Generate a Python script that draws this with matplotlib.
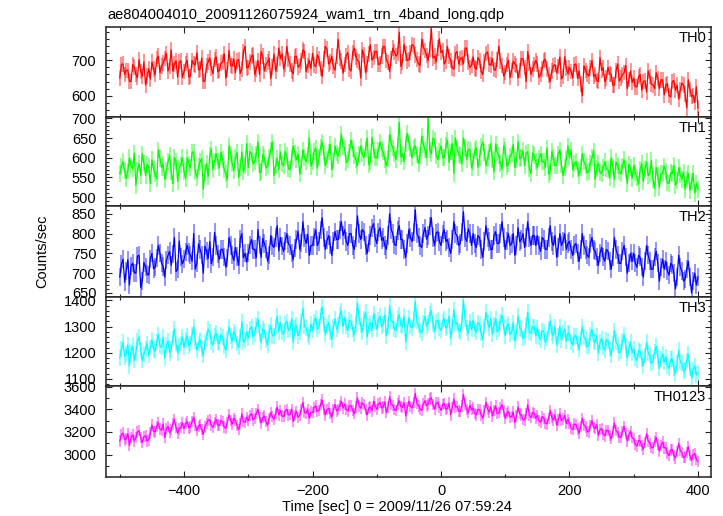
import numpy as np
import matplotlib
matplotlib.use("Agg")
import matplotlib.pyplot as plt
from matplotlib.ticker import MultipleLocator

plt.rcParams['font.family'] = ['Liberation Sans', 'DejaVu Sans']
plt.rcParams['font.size'] = 10.5

title = "ae804004010_20091126075924_wam1_trn_4band_long.qdp"
xlabel = "Time [sec] 0 = 2009/11/26 07:59:24"
ylabel = "Counts/sec"
band_names = ["TH0", "TH1", "TH2", "TH3", "TH0123"]
band_colors = ["#ff0000", "#00ff00", "#0000ff", "#00ffff", "#ff00ff"]

# time bins (2.5 s) from -500 to 400 s
time_start, time_stop, time_step = -500.0, 400.0, 2.5

th0 = [650, 689, 690, 660, 672, 672, 641, 640, 688, 681, 660, 651, 702, 669, 655, 696, 630, 656, 676, 647,
       695, 675, 660, 704, 712, 665, 684, 692, 705, 720, 670, 683, 730, 670, 690, 699, 652, 695, 699, 652,
       668, 691, 700, 653, 655, 700, 690, 687, 722, 673, 675, 707, 640, 642, 686, 695, 707, 678, 662, 702,
       710, 668, 672, 692, 695, 719, 650, 674, 728, 686, 684, 704, 665, 699, 703, 663, 676, 726, 740, 679,
       680, 696, 712, 715, 660, 676, 700, 660, 725, 712, 670, 688, 695, 706, 648, 681, 718, 670, 688, 735,
       705, 719, 676, 690, 740, 702, 690, 670, 662, 711, 712, 681, 685, 699, 730, 726, 668, 686, 700, 677,
       720, 687, 682, 716, 705, 677, 655, 704, 740, 732, 690, 695, 712, 682, 672, 711, 760, 707, 698, 664,
       688, 714, 722, 676, 670, 723, 735, 710, 700, 696, 650, 730, 715, 665, 690, 718, 745, 701, 708, 725,
       725, 688, 690, 712, 740, 739, 700, 694, 668, 706, 735, 724, 712, 719, 780, 683, 695, 746, 720, 699,
       702, 722, 745, 741, 715, 702, 690, 686, 760, 738, 728, 714, 700, 732, 790, 707, 712, 696, 735, 761,
       722, 728, 690, 699, 740, 711, 700, 679, 675, 720, 725, 690, 705, 708, 690, 735, 735, 695, 680, 686,
       710, 679, 675, 708, 700, 669, 660, 696, 720, 724, 688, 687, 705, 674, 672, 703, 740, 699, 685, 656,
       665, 689, 700, 651, 672, 698, 690, 685, 650, 671, 705, 705, 680, 640, 725, 693, 660, 676, 688, 700,
       690, 652, 660, 676, 700, 703, 675, 658, 640, 670, 685, 688, 665, 683, 710, 647, 655, 710, 678, 663,
       680, 669, 650, 688, 690, 649, 670, 633, 600, 685, 672, 661, 655, 679, 700, 654, 660, 643, 640, 708,
       672, 679, 640, 650, 680, 662, 660, 630, 630, 671, 690, 641, 650, 659, 665, 686, 620, 646, 670, 637,
       650, 625, 625, 654, 660, 615, 640, 642, 610, 670, 655, 633, 630, 620, 665, 649, 620, 645, 645, 602,
       630, 634, 600, 596, 640, 643, 615, 630, 590, 616, 635, 630, 605, 565, 645, 618, 598, 601, 580, 625,
       565]

th1 = [560, 578, 590, 567, 548, 566, 600, 579, 572, 611, 530, 569, 585, 555, 610, 587, 555, 583, 578, 535,
       595, 572, 560, 546, 620, 598, 575, 584, 545, 568, 590, 606, 565, 534, 600, 592, 540, 574, 582, 600,
       565, 548, 600, 584, 575, 614, 615, 564, 550, 578, 590, 598, 520, 562, 585, 552, 605, 622, 570, 590,
       610, 592, 575, 614, 595, 570, 560, 545, 630, 610, 585, 568, 600, 614, 550, 576, 615, 564, 580, 636,
       575, 616, 610, 584, 590, 608, 640, 562, 565, 608, 600, 574, 580, 600, 620, 640, 555, 580, 598, 570,
       615, 584, 580, 616, 605, 572, 570, 602, 630, 612, 595, 610, 560, 578, 620, 600, 590, 606, 650, 578,
       590, 616, 625, 574, 600, 626, 640, 612, 580, 596, 615, 634, 570, 590, 630, 612, 605, 622, 660, 628,
       625, 588, 595, 614, 645, 624, 605, 594, 580, 608, 630, 610, 600, 622, 650, 582, 590, 652, 620, 600,
       600, 618, 640, 622, 615, 596, 580, 598, 660, 636, 625, 610, 595, 630, 690, 602, 610, 590, 635, 662,
       640, 622, 600, 625, 630, 608, 585, 606, 655, 634, 620, 600, 700, 620, 610, 650, 645, 606, 595, 616,
       630, 600, 600, 632, 645, 588, 615, 636, 560, 650, 625, 608, 605, 584, 650, 626, 595, 622, 620, 574,
       590, 618, 625, 576, 600, 628, 640, 614, 580, 598, 615, 636, 595, 564, 635, 614, 605, 585, 570, 630,
       620, 578, 585, 604, 610, 634, 575, 594, 640, 598, 600, 618, 580, 612, 615, 572, 560, 612, 605, 590,
       575, 598, 610, 590, 590, 576, 625, 558, 565, 616, 600, 580, 580, 610, 620, 582, 555, 575, 595, 630,
       600, 620, 570, 585, 590, 572, 555, 575, 610, 590, 580, 562, 565, 587, 600, 617, 545, 573, 585, 563,
       560, 575, 590, 572, 570, 549, 600, 579, 545, 590, 580, 565, 560, 578, 595, 570, 535, 583, 575, 548,
       580, 562, 550, 533, 570, 585, 540, 571, 590, 555, 560, 593, 545, 521, 575, 556, 525, 561, 560, 578,
       565, 536, 535, 562, 560, 580, 530, 542, 575, 556, 545, 563, 520, 545, 560, 517, 540, 560, 510, 535,
       520]

th2 = [690, 723, 735, 677, 705, 734, 670, 719, 725, 701, 700, 743, 745, 664, 680, 727, 715, 698, 695, 736,
       750, 711, 715, 739, 770, 750, 725, 717, 690, 733, 745, 755, 720, 748, 790, 704, 710, 781, 740, 724,
       735, 754, 770, 752, 745, 730, 800, 710, 725, 774, 760, 746, 700, 768, 755, 737, 780, 724, 740, 803,
       770, 748, 735, 760, 760, 740, 715, 738, 790, 770, 745, 732, 765, 742, 720, 787, 800, 739, 750, 728,
       750, 772, 785, 760, 760, 739, 810, 772, 740, 788, 775, 761, 730, 746, 795, 770, 765, 790, 820, 756,
       790, 768, 755, 782, 800, 774, 770, 750, 735, 764, 785, 806, 760, 777, 830, 790, 775, 798, 745, 770,
       770, 792, 810, 770, 780, 810, 840, 790, 760, 783, 795, 772, 745, 780, 805, 785, 785, 810, 830, 795,
       810, 780, 770, 800, 800, 770, 760, 790, 845, 800, 785, 810, 805, 770, 750, 777, 795, 815, 825, 790,
       775, 805, 815, 783, 790, 770, 760, 795, 850, 810, 800, 772, 770, 808, 820, 785, 785, 760, 740, 775,
       810, 790, 780, 805, 860, 800, 790, 770, 765, 800, 815, 786, 795, 820, 840, 790, 770, 802, 805, 780,
       770, 799, 810, 780, 785, 765, 750, 785, 830, 800, 795, 770, 775, 805, 855, 790, 780, 812, 800, 770,
       800, 775, 765, 795, 790, 760, 740, 780, 820, 790, 780, 760, 760, 795, 805, 775, 775, 800, 830, 790,
       760, 782, 800, 770, 775, 800, 745, 770, 815, 780, 785, 800, 765, 790, 830, 790, 770, 795, 795, 770,
       795, 770, 755, 790, 785, 760, 760, 790, 820, 780, 770, 795, 740, 765, 800, 770, 780, 800, 760, 775,
       780, 760, 745, 770, 775, 750, 730, 760, 800, 770, 760, 745, 740, 775, 790, 760, 755, 740, 720, 750,
       765, 740, 730, 760, 755, 730, 710, 740, 790, 760, 745, 725, 725, 755, 770, 740, 700, 725, 750, 730,
       750, 725, 715, 745, 740, 715, 690, 730, 770, 745, 730, 710, 710, 740, 755, 725, 680, 715, 735, 710,
       730, 705, 695, 725, 720, 700, 660, 690, 745, 715, 705, 680, 685, 710, 730, 690, 650, 680, 700, 670,
       690]

th3 = [1180, 1215, 1240, 1185, 1195, 1230, 1150, 1205, 1225, 1170, 1200, 1245, 1260, 1210, 1170, 1195, 1215, 1235, 1190, 1220,
       1250, 1215, 1205, 1240, 1270, 1225, 1220, 1260, 1180, 1230, 1245, 1200, 1215, 1255, 1290, 1235, 1200, 1225, 1235, 1260,
       1220, 1250, 1265, 1225, 1235, 1270, 1300, 1245, 1210, 1235, 1250, 1215, 1190, 1240, 1255, 1290, 1280, 1240, 1230, 1265,
       1275, 1240, 1235, 1270, 1260, 1225, 1210, 1255, 1300, 1265, 1245, 1280, 1270, 1235, 1220, 1260, 1320, 1240, 1250, 1280,
       1255, 1290, 1300, 1260, 1270, 1305, 1330, 1275, 1240, 1290, 1285, 1250, 1230, 1280, 1305, 1265, 1265, 1300, 1340, 1280,
       1315, 1280, 1270, 1310, 1320, 1285, 1290, 1330, 1240, 1295, 1305, 1265, 1280, 1320, 1370, 1300, 1295, 1270, 1260, 1310,
       1285, 1320, 1335, 1290, 1300, 1340, 1375, 1310, 1270, 1300, 1315, 1280, 1250, 1300, 1330, 1290, 1305, 1345, 1360, 1300,
       1335, 1300, 1285, 1325, 1320, 1290, 1270, 1310, 1390, 1335, 1305, 1280, 1330, 1355, 1260, 1300, 1315, 1285, 1350, 1320,
       1290, 1325, 1340, 1300, 1310, 1345, 1265, 1300, 1380, 1320, 1320, 1290, 1285, 1330, 1345, 1305, 1300, 1340, 1240, 1290,
       1335, 1300, 1295, 1330, 1395, 1320, 1305, 1285, 1275, 1315, 1340, 1300, 1315, 1350, 1360, 1310, 1280, 1320, 1325, 1295,
       1285, 1320, 1330, 1295, 1300, 1340, 1255, 1300, 1365, 1310, 1315, 1285, 1280, 1320, 1400, 1330, 1295, 1275, 1320, 1290,
       1325, 1290, 1280, 1315, 1310, 1275, 1250, 1300, 1355, 1315, 1295, 1330, 1270, 1305, 1330, 1280, 1290, 1320, 1345, 1300,
       1265, 1300, 1310, 1270, 1280, 1315, 1245, 1280, 1340, 1295, 1290, 1255, 1260, 1305, 1355, 1280, 1275, 1300, 1300, 1265,
       1295, 1260, 1250, 1285, 1280, 1240, 1255, 1290, 1320, 1275, 1265, 1300, 1230, 1265, 1300, 1250, 1275, 1290, 1245, 1275,
       1275, 1240, 1230, 1265, 1265, 1235, 1215, 1255, 1300, 1260, 1250, 1225, 1225, 1270, 1290, 1245, 1240, 1265, 1200, 1240,
       1255, 1220, 1210, 1250, 1245, 1215, 1190, 1235, 1285, 1240, 1230, 1200, 1205, 1245, 1270, 1225, 1180, 1215, 1240, 1200,
       1215, 1180, 1170, 1210, 1205, 1175, 1150, 1190, 1240, 1200, 1190, 1160, 1165, 1205, 1225, 1185, 1140, 1175, 1195, 1165,
       1185, 1150, 1140, 1175, 1175, 1140, 1120, 1160, 1210, 1165, 1160, 1130, 1135, 1170, 1195, 1140, 1105, 1135, 1150, 1115,
       1125]

th0123 = [3120, 3175, 3190, 3130, 3140, 3185, 3080, 3150, 3175, 3120, 3150, 3200, 3210, 3150, 3105, 3160, 3165, 3120, 3130, 3190,
          3260, 3205, 3200, 3250, 3280, 3225, 3215, 3270, 3150, 3230, 3250, 3195, 3220, 3270, 3310, 3240, 3190, 3225, 3240, 3280,
          3230, 3275, 3290, 3235, 3245, 3290, 3330, 3260, 3210, 3250, 3265, 3220, 3180, 3245, 3275, 3300, 3310, 3255, 3240, 3285,
          3310, 3260, 3255, 3300, 3290, 3245, 3230, 3285, 3350, 3300, 3270, 3320, 3300, 3255, 3220, 3275, 3360, 3290, 3285, 3330,
          3300, 3345, 3360, 3305, 3320, 3365, 3400, 3330, 3280, 3325, 3340, 3290, 3260, 3320, 3370, 3335, 3310, 3360, 3420, 3350,
          3390, 3340, 3335, 3385, 3400, 3350, 3355, 3400, 3290, 3345, 3380, 3330, 3345, 3395, 3460, 3370, 3365, 3400, 3320, 3375,
          3370, 3415, 3430, 3380, 3390, 3440, 3480, 3400, 3350, 3395, 3410, 3365, 3330, 3400, 3440, 3385, 3395, 3435, 3470, 3410,
          3445, 3400, 3385, 3430, 3430, 3390, 3360, 3420, 3500, 3430, 3410, 3455, 3440, 3395, 3350, 3410, 3420, 3385, 3470, 3425,
          3400, 3445, 3460, 3410, 3420, 3465, 3370, 3420, 3510, 3440, 3435, 3395, 3390, 3445, 3475, 3425, 3415, 3460, 3340, 3410,
          3470, 3425, 3410, 3460, 3540, 3450, 3430, 3400, 3390, 3445, 3475, 3430, 3445, 3490, 3500, 3440, 3400, 3455, 3460, 3420,
          3390, 3440, 3450, 3400, 3405, 3455, 3350, 3415, 3490, 3420, 3425, 3385, 3380, 3430, 3530, 3445, 3400, 3370, 3435, 3395,
          3410, 3365, 3350, 3400, 3395, 3350, 3320, 3385, 3460, 3400, 3375, 3420, 3340, 3390, 3430, 3360, 3370, 3410, 3440, 3385,
          3320, 3365, 3380, 3330, 3335, 3375, 3280, 3340, 3420, 3360, 3350, 3310, 3305, 3360, 3440, 3350, 3325, 3370, 3365, 3320,
          3345, 3300, 3285, 3335, 3320, 3280, 3270, 3320, 3390, 3325, 3305, 3350, 3260, 3305, 3360, 3300, 3315, 3345, 3275, 3310,
          3280, 3235, 3220, 3270, 3265, 3225, 3190, 3250, 3320, 3260, 3245, 3205, 3200, 3255, 3300, 3240, 3230, 3265, 3170, 3220,
          3230, 3180, 3165, 3215, 3215, 3170, 3140, 3200, 3280, 3210, 3195, 3155, 3150, 3205, 3250, 3185, 3120, 3170, 3205, 3150,
          3140, 3090, 3075, 3125, 3120, 3080, 3050, 3105, 3185, 3120, 3100, 3065, 3060, 3115, 3150, 3090, 3030, 3080, 3110, 3060,
          3060, 3015, 2990, 3040, 3045, 2995, 2970, 3030, 3100, 3035, 3020, 2975, 2980, 3020, 3070, 2990, 2950, 3000, 3010, 2960,
          2940]

band_errors = [22, 21, 23, 30, 50]
band_values = [th0, th1, th2, th3, th0123]

# axis settings per panel
ylims = [(540, 795), (477, 704), (641, 869), (1072, 1415), (2803, 3602)]
ymajor = [100, 50, 50, 100, 200]
yminor = [20, 10, 10, 20, 100]

W, H = 723, 516
fig = plt.figure(figsize=(W / 100, H / 100), dpi=100)
left_px, right_px = 106, 711
edges = [27, 116.7, 206.3, 296.5, 386.3, 477]

t = np.arange(time_start, time_stop + 0.1, time_step)

for i in range(5):
    top, bot = edges[i], edges[i + 1]
    ax = fig.add_axes([left_px / W, 1 - bot / H, (right_px - left_px) / W, (bot - top) / H])
    vals = np.array(band_values[i], dtype=float)
    ax.errorbar(t, vals, yerr=band_errors[i], fmt='none', ecolor=band_colors[i],
                alpha=0.5, elinewidth=1.2)
    ax.plot(t, vals, color=band_colors[i], lw=0.9)
    ax.set_xlim(-521.5, 420.3)
    ax.set_ylim(*ylims[i])
    ax.yaxis.set_major_locator(MultipleLocator(ymajor[i]))
    ax.yaxis.set_minor_locator(MultipleLocator(yminor[i]))
    ax.xaxis.set_major_locator(MultipleLocator(200))
    ax.xaxis.set_minor_locator(MultipleLocator(100))
    ax.tick_params(which='both', direction='in', top=True, right=True, width=0.8, color='#222222')
    ax.tick_params(which='major', length=4.5)
    ax.tick_params(which='minor', length=2.5)
    ax.tick_params(axis='y', which='major', pad=7, labelsize=10.5)
    ax.tick_params(axis='x', which='major', pad=5, labelsize=10.5)
    for s in ax.spines.values():
        s.set_linewidth(1.1)
        s.set_color('#222222')
    if i < 4:
        ax.tick_params(axis='x', labelbottom=False)
    ax.text(0.992, 1 - 4.0 / (bot - top), band_names[i], transform=ax.transAxes,
            ha='right', va='top', fontsize=10.5)

fig.text(107 / W, 1 - 15 / H, title, ha='left', va='center', fontsize=10.5)
fig.text(397 / W, 1 - 507 / H, xlabel, ha='center', va='center', fontsize=10.5)
fig.text(42 / W, 1 - 251 / H, ylabel, rotation=90, ha='center', va='center', fontsize=10.5)

fig.savefig("out.png", dpi=100)
